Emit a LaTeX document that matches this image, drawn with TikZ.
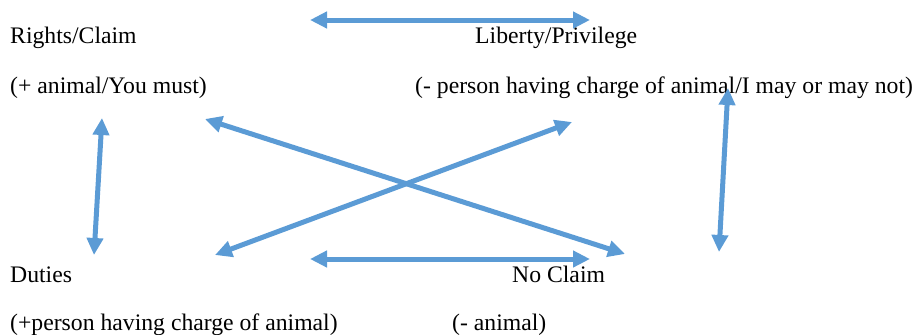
\documentclass[tikz,border=0pt]{standalone}
\usepackage{fontspec}
\setmainfont{Liberation Serif}
\usetikzlibrary{arrows.meta}
\definecolor{arrowblue}{HTML}{5B9BD5}
\tikzset{
  lbl/.style={anchor=base west, inner sep=0pt, font=\fontsize{23.7}{28}\selectfont, text=black},
  dblarrow/.style={draw=arrowblue, line width=5pt, {Triangle[length=17pt,width=16pt]}-{Triangle[length=17pt,width=16pt]}}
}
\begin{document}
\begin{tikzpicture}[x=1pt,y=-1pt]
\useasboundingbox (0,0) rectangle (922,335);
% labels
\node[lbl] (rc) at (10,43) {Rights/Claim};
\node[lbl] (rcs) at (10,93) {(+ animal/You must)};
\node[lbl] (lp) at (475,43) {Liberty/Privilege};
\node[lbl] (lps) at (415,93) {(- person having charge of animal/I may or may not)};
\node[lbl] (du) at (10,282) {Duties};
\node[lbl] (dus) at (10,330) {(+person having charge of animal)};
\node[lbl] (nc) at (512,282) {No Claim};
\node[lbl] (ncs) at (452,330) {(- animal)};
% arrow ends
\coordinate (t1) at (310,20);
\coordinate (t2) at (590,20);
\coordinate (l1) at (102,118);
\coordinate (l2) at (94,255);
\coordinate (r1) at (728,88);
\coordinate (r2) at (719,252);
\coordinate (x1) at (205,119);
\coordinate (x2) at (625,254);
\coordinate (y1) at (215,255);
\coordinate (y2) at (572,122);
\coordinate (b1) at (310,259);
\coordinate (b2) at (590,259);
% arrows
\draw[dblarrow] (t1) -- (t2);
\draw[dblarrow] (l1) -- (l2);
\draw[dblarrow] (r1) -- (r2);
\draw[dblarrow] (x1) -- (x2);
\draw[dblarrow] (y1) -- (y2);
\draw[dblarrow] (b1) -- (b2);
\end{tikzpicture}
\end{document}
